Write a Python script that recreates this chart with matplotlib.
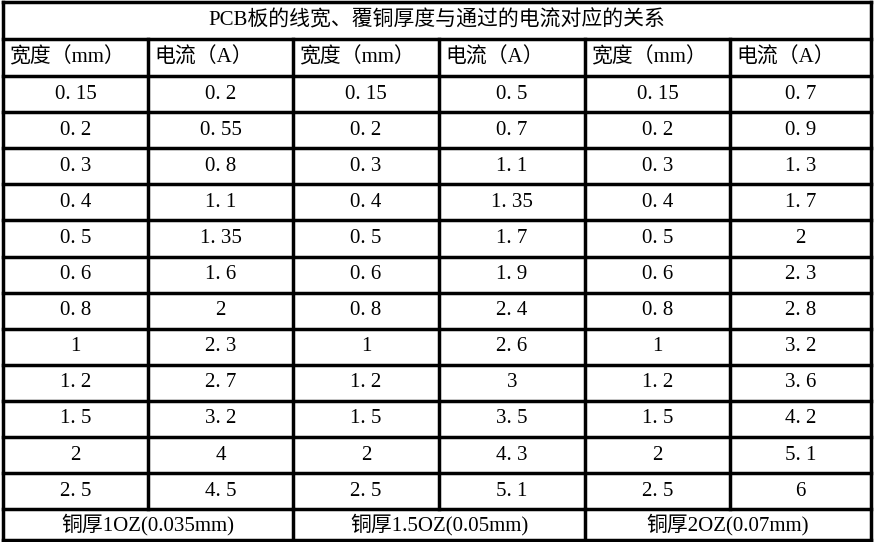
import matplotlib
matplotlib.use("Agg")
import matplotlib.pyplot as plt

title = "PCB板的线宽、覆铜厚度与通过的电流对应的关系"
headers = ["宽度（mm）", "电流（A）", "宽度（mm）", "电流（A）", "宽度（mm）", "电流（A）"]
widths = ["0.15", "0.2", "0.3", "0.4", "0.5", "0.6", "0.8", "1", "1.2", "1.5", "2", "2.5"]
current_1oz = ["0.2", "0.55", "0.8", "1.1", "1.35", "1.6", "2", "2.3", "2.7", "3.2", "4", "4.5"]
current_15oz = ["0.5", "0.7", "1.1", "1.35", "1.7", "1.9", "2.4", "2.6", "3", "3.5", "4.3", "5.1"]
current_2oz = ["0.7", "0.9", "1.3", "1.7", "2", "2.3", "2.8", "3.2", "3.6", "4.2", "5.1", "6"]
footers = ["铜厚1OZ(0.035mm)", "铜厚1.5OZ(0.05mm)", "铜厚2OZ(0.07mm)"]

W, H = 874, 542
fig = plt.figure(figsize=(W/100, H/100), dpi=100)
ax = fig.add_axes([0, 0, 1, 1])
ax.set_xlim(0, W); ax.set_ylim(H, 0); ax.axis("off")

cols = [3, 148, 293, 439, 585, 730, 871]
y_title, y_head = 2, 39
row_h = 36.1
y_data0 = 76
nrows = len(widths)
y_foot = y_data0 + nrows * row_h
y_end = 540

font = ["Liberation Serif", "Noto Sans CJK SC"]
lw = 2.5
kw = dict(color="black", lw=lw, solid_capstyle="projecting")
for y in [y_title, y_head] + [y_data0 + i*row_h for i in range(nrows+1)] + [y_end]:
    ax.plot([cols[0], cols[-1]], [y, y], **kw)
ax.plot([cols[0], cols[0]], [y_title, y_end], **kw)
ax.plot([cols[-1], cols[-1]], [y_title, y_end], **kw)
for j, x in enumerate(cols[1:-1], start=1):
    ax.plot([x, x], [y_head, y_foot], **kw)
    if j % 2 == 0:
        ax.plot([x, x], [y_foot, y_end], **kw)

fs = 15
ax.text((cols[0]+cols[-1])/2, (y_title+y_head)/2, title, ha="center", va="center",
        fontsize=fs, family=font)
for j, h in enumerate(headers):
    ax.text(cols[j]+6, (y_head+y_data0)/2, h, ha="left", va="center", fontsize=fs, family=font)
columns = [widths, current_1oz, widths, current_15oz, widths, current_2oz]
for j, colvals in enumerate(columns):
    cx = (cols[j]+cols[j+1])/2
    for i, v in enumerate(colvals):
        ax.text(cx, y_data0 + (i+0.5)*row_h, v.replace(".", ". "), ha="center", va="center",
                fontsize=fs, family=font)
for k, f in enumerate(footers):
    cx = (cols[2*k]+cols[2*k+2])/2
    ax.text(cx, (y_foot+y_end)/2, f, ha="center", va="center", fontsize=fs, family=font)

fig.savefig("out.png", dpi=100)
